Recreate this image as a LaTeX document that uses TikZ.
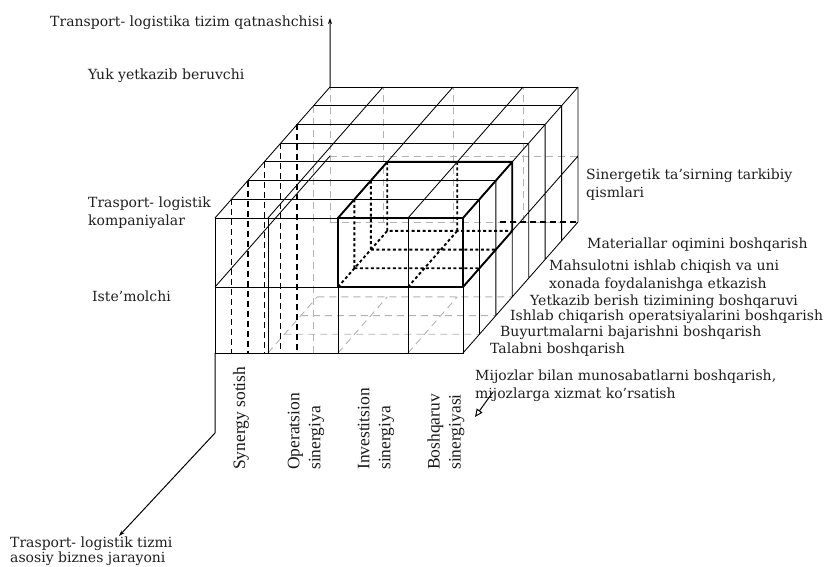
\documentclass[tikz,border=0pt]{standalone}
\usepackage{fontspec}
\setmainfont{DejaVu Serif}
\newfontfamily\colfont{Liberation Serif}
\usetikzlibrary{arrows.meta}

\begin{document}
\begin{tikzpicture}[x=1pt, y=1pt, z={(16.43pt,18.71pt)},
  lbl/.style = {font=\fontsize{14}{18}\selectfont, text=black!88, inner sep=0pt, align=left, anchor=west},
  col/.style = {font=\colfont\fontsize{17.5}{21}\selectfont, text=black!90, inner sep=0pt, align=left, rotate=90, anchor=west},
  gridline/.style = {line width=0.85pt},
  hid/.style = {line width=1.4pt, dash pattern=on 6pt off 4pt},
  ghost/.style = {gray!60, line width=0.9pt, dash pattern=on 7pt off 5pt},
  hibox/.style = {line width=1.9pt},
  hidbox/.style = {line width=1.9pt, dash pattern=on 3pt off 2.5pt},
  axisline/.style = {line width=1pt}]
\useasboundingbox (0,0) rectangle (828,567);

\begin{scope}[shift={(215,214)}]
% hidden back and bottom
\draw[ghost] (0,66,7) -- (248,66,7) (0,0,7) -- (248,0,7) (0,0,7) -- (0,135,7)
  (53,0,7) -- (53,135,7) (123,0,7) -- (123,135,7) (193,0,7) -- (193,135,7);
\draw[hid] (170,0,7) -- (248,0,7);
\draw[ghost] (53,0,1) -- (248,0,1) (53,0,2) -- (248,0,2) (53,0,3) -- (248,0,3)
  (53,0,0) -- (53,0,3) (123,0,0) -- (123,0,3) (193,0,0) -- (193,0,3);
% left face
\draw[hid] (0,135,1) -- ++(0,-153.7) (0,135,2) -- ++(0,-172.4) (0,135,3) -- ++(0,-191.1)
  (0,135,4) -- ++(0,-209.8) (0,135,5) -- ++(0,-228.6);
\draw[ghost] (0,135,6) -- ++(0,-247.3);
\draw[gridline] (0,66,0) -- (0,66,7);

% top face
\draw[gridline] (0,135,0) -- (248,135,0) (0,135,1) -- (248,135,1) (0,135,2) -- (248,135,2)
  (0,135,3) -- (248,135,3) (0,135,4) -- (248,135,4) (0,135,5) -- (248,135,5)
  (0,135,6) -- (248,135,6) (0,135,7) -- (248,135,7);
\draw[gridline] (0,135,0) -- (0,135,7) (53,135,0) -- (53,135,7) (123,135,0) -- (123,135,7)
  (193,135,0) -- (193,135,7) (248,135,0) -- (248,135,7);
% front face
\draw[gridline] (0,0,0) rectangle (248,135,0) (0,66,0) -- (248,66,0)
  (53,0,0) -- (53,135,0) (123,0,0) -- (123,135,0) (193,0,0) -- (193,135,0);
% right face
\draw[gridline] (248,0,0) -- (248,0,7) (248,66,0) -- (248,66,7)
  (248,0,1) -- (248,135,1) (248,0,2) -- (248,135,2) (248,0,3) -- (248,135,3)
  (248,0,4) -- (248,135,4) (248,0,5) -- (248,135,5) (248,0,6) -- (248,135,6)
  (248,0,7) -- (248,135,7);

% highlighted block
\draw[hibox] (123,66,0) rectangle (248,135,0);
\draw[hibox] (123,135,0) -- (123,135,3) -- (248,135,3) -- (248,66,3) -- (248,66,0)
  (248,135,0) -- (248,135,3);
\draw[hidbox] (123,66,0) -- (123,66,3) -- (248,66,3) (123,66,3) -- (123,135,3)
  (123,66,1) -- (248,66,1) (123,66,2) -- (248,66,2) (193,66,0) -- (193,66,3)
  (123,66,1) -- (123,135,1) (123,66,2) -- (123,135,2) (193,66,3) -- (193,135,3);

\coordinate (o1) at (0,135,7);
\coordinate (o2) at (0,0,0);
\end{scope}

% axes
\coordinate (ytip) at (330,549);
\coordinate (bend) at (215,134);
\coordinate (btip) at (119,31);
\coordinate (r2) at (493,175);
\coordinate (r3) at (475,150);
\draw[axisline,-{Stealth[length=6pt,width=4pt]}] (o1) -- (ytip);
\draw[axisline,-{Stealth[length=6pt,width=4pt]}] (o2) -- (bend) -- (btip);
\draw[axisline,-{Triangle[open,length=8pt,width=7pt]}] (r2) -- (r3);

% labels
\node[lbl, anchor=east] (qat) at (324,544) {Transport- logistika tizim qatnashchisi};
\node[lbl] (yuk) at (88,491) {Yuk yetkazib beruvchi};
\node[lbl] (tlk) at (88,354) {Trasport- logistik\\kompaniyalar};
\node[lbl] (ist) at (92,271) {Iste'molchi};
\node[lbl] (sin) at (586,382) {Sinergetik ta'sirning tarkibiy\\qismlari};
\node[lbl] (mat) at (587,322) {Materiallar oqimini boshqarish};
\node[lbl] (mah) at (549,291) {Mahsulotni ishlab chiqish va uni\\xonada foydalanishga etkazish};
\node[lbl] (yet) at (530,265) {Yetkazib berish tizimining boshqaruvi};
\node[lbl] (ish) at (510,250) {Ishlab chiqarish operatsiyalarini boshqarish};
\node[lbl] (buy) at (500,234) {Buyurtmalarni bajarishni boshqarish};
\node[lbl] (tal) at (490,217) {Talabni boshqarish};
\node[lbl] (mij) at (475,181) {Mijozlar bilan munosabatlarni boshqarish,\\mijozlarga xizmat ko'rsatish};
\node[lbl, font=\fontsize{14}{15}\selectfont] (bp) at (10,16) {Trasport- logistik tizmi\\asosiy biznes jarayoni};

\node[col] (syn) at (241,97) {Synergy sotish};
\node[col] (ope) at (306,97) {Operatsion\\sinergiya};
\node[col] (inv) at (376,97) {Investitsion\\sinergiya};
\node[col] (bos) at (446,97) {Boshqaruv\\sinergiyasi};
\end{tikzpicture}
\end{document}
